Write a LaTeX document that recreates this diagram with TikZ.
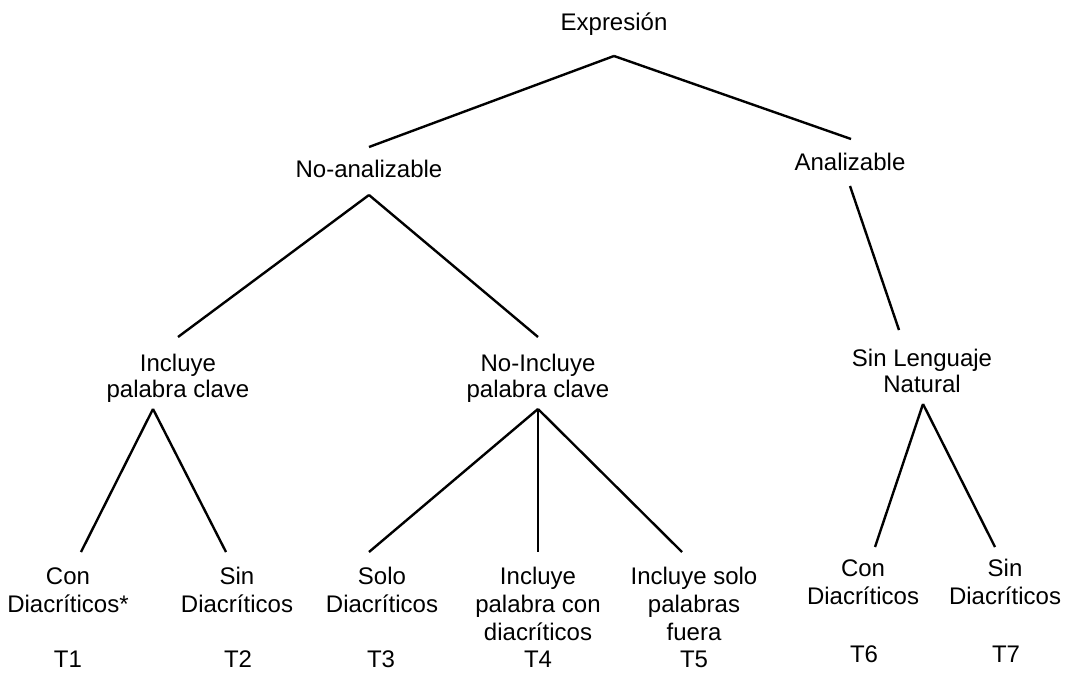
\documentclass[tikz,border=0pt]{standalone}
\usepackage{fontspec}
\setmainfont{Liberation Sans}

\begin{document}
\begin{tikzpicture}[
  x=0.5pt, y=-0.5pt,
  every node/.style={inner sep=0pt,anchor=base,align=center},
  inner/.style={font=\fontsize{12}{13}\selectfont},
  leaf/.style={font=\fontsize{12}{14}\selectfont},
  branch/.style={line width=1.2pt,black},
]
  \useasboundingbox (0,0) rectangle (1069,673);

  % Root and first split
  \node[inner] (expr) at (614,31) {Expresión};
  \node[inner] (noan) at (369,178) {No-analizable};
  \node[inner] (anal) at (850,171) {Analizable};

  % Second level (base = last line)
  \node[inner] (incl) at (178,397) {Incluye\\palabra clave};
  \node[inner] (noincl) at (538,397) {No-Incluye\\palabra clave};
  \node[inner] (sinln) at (922,392) {Sin Lenguaje\\Natural};

  % Leaves
  \node[leaf] (con1) at (68,612) {Con\\Diacríticos*};
  \node[leaf] (sin1) at (237,612) {Sin\\Diacríticos};
  \node[leaf] (solo) at (382,612) {Solo\\Diacríticos};
  \node[leaf] (inpal) at (538,640) {Incluye\\palabra con\\diacríticos};
  \node[leaf] (insolo) at (694,640) {Incluye solo\\palabras\\fuera};
  \node[leaf] (con2) at (863,604) {Con\\Diacríticos};
  \node[leaf] (sin2) at (1005,604) {Sin\\Diacríticos};

  % Type labels
  \node[leaf] (t1) at (68,667) {T1};
  \node[leaf] (t2) at (238,667) {T2};
  \node[leaf] (t3) at (381,667) {T3};
  \node[leaf] (t4) at (538,667) {T4};
  \node[leaf] (t5) at (694,667) {T5};
  \node[leaf] (t6) at (864,662) {T6};
  \node[leaf] (t7) at (1006,662) {T7};

  % Branches
  \draw[branch] ([shift={(0,25)}]expr.base) -- ([shift={(0,-31)}]noan.base);
  \draw[branch] ([shift={(0,25)}]expr.base) -- ([shift={(1,-32)}]anal.base);

  \draw[branch] ([shift={(0,17)}]noan.base) -- ([shift={(0,-60)}]incl.base);
  \draw[branch] ([shift={(0,17)}]noan.base) -- ([shift={(0,-60)}]noincl.base);
  \draw[branch] ([shift={(0,15)}]anal.base) -- ([shift={(-23,-62)}]sinln.base);

  \draw[branch] ([shift={(-25,12)}]incl.base) -- ([shift={(13,-60)}]con1.base);
  \draw[branch] ([shift={(-25,12)}]incl.base) -- ([shift={(-11,-60)}]sin1.base);

  \draw[branch] ([shift={(0,12)}]noincl.base) -- ([shift={(-13,-60)}]solo.base);
  \draw[branch,line width=0.8pt] ([shift={(0,12)}]noincl.base) -- ([shift={(0,-88)}]inpal.base);
  \draw[branch] ([shift={(0,12)}]noincl.base) -- ([shift={(-12,-88)}]insolo.base);

  \draw[branch] ([shift={(1,12)}]sinln.base) -- ([shift={(12,-57)}]con2.base);
  \draw[branch] ([shift={(1,12)}]sinln.base) -- ([shift={(-10,-57)}]sin2.base);
\end{tikzpicture}
\end{document}
